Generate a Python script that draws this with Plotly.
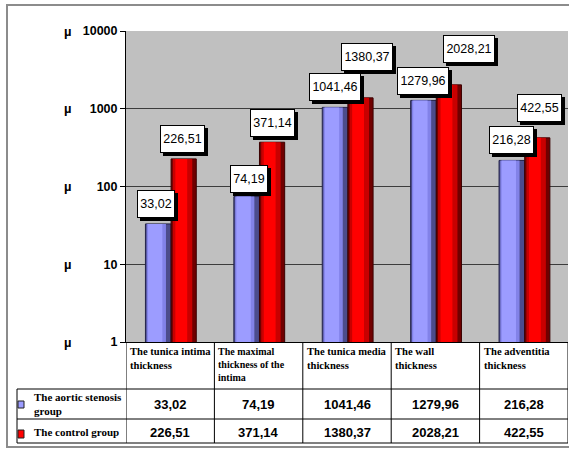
import math
import plotly.graph_objects as go

# ---- data -------------------------------------------------------------
categories = [
    "The tunica intima thickness",
    "The maximal thickness of the intima",
    "The tunica media thickness",
    "The wall thickness",
    "The adventitia thickness",
]
header_text = [
    "The tunica intima<br>thickness",
    "The maximal<br>thickness of the<br>intima",
    "The tunica media<br>thickness",
    "The wall<br>thickness",
    "The adventitia<br>thickness",
]
series_names = ["The aortic stenosis<br>group", "The control group"]
stenosis = [33.02, 74.19, 1041.46, 1279.96, 216.28]
control = [226.51, 371.14, 1380.37, 2028.21, 422.55]
y_ticks = [1, 10, 100, 1000, 10000]
unit_label = "µ"

# ---- page geometry ----------------------------------------------------
W, H = 569, 451
ML, MR, MT, MB = 126, 1, 31, 109
PW, PH = W - ML - MR, H - MT - MB


def px(xp):
    return (xp - ML) / PW


def py(yp):
    return (H - MB - yp) / PH


def fmt(v):
    return f"{v:.2f}".replace(".", ",")


def text_width(s, size):
    # Liberation Sans metrics: digits 0.556 em, comma 0.278 em
    return sum(0.278 if ch == "," else 0.556 for ch in s) * size


SANS = "Liberation Sans, Arial, sans-serif"
SERIF = "Liberation Serif, Times New Roman, serif"
LABEL_SIZE = 12.5

fig = go.Figure()
xs = list(range(len(categories)))

# cylinder-like bars: a dark full-width bar with lighter inner strips on top
bar_specs = [
    dict(values=stenosis, offset=-0.28, width=0.29, outline="#23234a",
         layers=[(0.0, 1.0, "#4c4c8c"), (0.05, 0.80, "#8282e8"), (0.10, 0.66, "#9c9cff")]),
    dict(values=control, offset=0.01, width=0.285, outline="#3a0000",
         layers=[(0.0, 1.0, "#700000"), (0.07, 0.84, "#c80000"), (0.17, 0.64, "#ff0000")]),
]
for spec in bar_specs:
    for k, (lo, hi, col) in enumerate(spec["layers"]):
        fig.add_bar(
            x=xs, y=spec["values"],
            offset=spec["offset"] + lo * spec["width"],
            width=(hi - lo) * spec["width"],
            marker=dict(color=col, line=dict(width=1 if k == 0 else 0, color=spec["outline"])),
            showlegend=False, hoverinfo="skip",
        )

annotations = []
shapes = []

# value labels: white boxes with a black drop shadow
label_shift = [
    dict(dx=[-2, 2, 0, 0, 0], gap=[6, 4, 6, 5, 6]),
    dict(dx=[-1, 0, 7, 20, 2], gap=[6, 5, 27, 22, 16]),
]
for spec, sh in zip(bar_specs, label_shift):
    center = spec["offset"] + spec["width"] / 2
    for i, v in enumerate(spec["values"]):
        label = fmt(v)
        box_w = math.ceil(text_width(label, LABEL_SIZE))
        for shadow in (True, False):
            annotations.append(dict(
                x=i + center, y=math.log10(v), xref="x", yref="y",
                text=" " if shadow else label, showarrow=False,
                yanchor="bottom", xanchor="center",
                xshift=sh["dx"][i] + (3 if shadow else 0),
                yshift=sh["gap"][i] - (3 if shadow else 0),
                font=dict(family=SANS, size=LABEL_SIZE, color="black"),
                width=box_w, height=22,
                bgcolor="black" if shadow else "white",
                bordercolor="black", borderwidth=1, borderpad=2,
            ))

# unit marks next to the tick labels
for t in y_ticks:
    annotations.append(dict(
        x=px(68), y=math.log10(t), xref="paper", yref="y", text=f"<b>{unit_label}</b>",
        showarrow=False, xanchor="center", yanchor="middle",
        font=dict(family=SANS, size=13, color="black"),
    ))

# ---- data table under the plot -----------------------------------------
line = dict(color="black", width=1)
row_y = [389, 419, 443]
for yp in row_y:
    shapes.append(dict(type="line", xref="paper", yref="paper",
                       x0=px(17), x1=px(568), y0=py(yp), y1=py(yp), line=line))
shapes.append(dict(type="line", xref="paper", yref="paper",
                   x0=px(17), x1=px(17), y0=py(389), y1=py(443), line=line))
for b in range(len(categories) + 1):
    shapes.append(dict(type="line", xref="x", yref="paper",
                       x0=b - 0.5, x1=b - 0.5, y0=0, y1=py(443), line=line))

for i, txt in enumerate(header_text):
    small = txt.count("<br>") > 1
    annotations.append(dict(
        x=i - 0.5, y=py(344), xref="x", yref="paper", text=f"<b>{txt}</b>",
        showarrow=False, xanchor="left", yanchor="top", align="left", xshift=2,
        font=dict(family=SERIF, size=10 if small else 10.6, color="black"),
    ))

row_centers = [404, 432]
for r, (name, vals) in enumerate(zip(series_names, [stenosis, control])):
    annotations.append(dict(
        x=px(32), y=py(row_centers[r]), xref="paper", yref="paper",
        text=f"<b>{name}</b>", showarrow=False, xanchor="left", yanchor="middle",
        align="left", font=dict(family=SERIF, size=11, color="black"),
    ))
    for i, v in enumerate(vals):
        annotations.append(dict(
            x=i, y=py(row_centers[r]), xref="x", yref="paper", text=f"<b>{fmt(v)}</b>",
            showarrow=False, xanchor="center", yanchor="middle",
            font=dict(family=SANS, size=13, color="black"),
        ))

# legend keys inside the row headers
for (x0, y0, x1, y1), spec in zip([(18, 401, 24, 408), (18, 430, 24, 438)], bar_specs):
    shapes.append(dict(type="rect", xref="paper", yref="paper",
                       x0=px(x0), x1=px(x1), y0=py(y0), y1=py(y1),
                       fillcolor=spec["layers"][-1][2], line=dict(color="#202020", width=1)))

# outer frame
shapes.append(dict(type="rect", xref="paper", yref="paper",
                   x0=px(7), x1=px(590), y0=py(5), y1=py(447),
                   line=dict(color="#8c8c8c", width=2), fillcolor="rgba(0,0,0,0)"))

fig.update_layout(
    width=W, height=H,
    margin=dict(l=ML, r=MR, t=MT, b=MB, pad=0),
    paper_bgcolor="white", plot_bgcolor="#c0c0c0",
    barmode="overlay", showlegend=False,
    annotations=annotations, shapes=shapes,
    xaxis=dict(range=[-0.5, len(categories) - 0.5], showticklabels=False, showgrid=False,
               zeroline=False, showline=True, linecolor="black", linewidth=1, ticks=""),
    yaxis=dict(type="log", range=[0, 4], tickvals=y_ticks,
               ticktext=[f"<b>{t}</b>" for t in y_ticks],
               ticks="outside", ticklen=5, tickcolor="black",
               tickfont=dict(family=SANS, size=12.5, color="black"),
               showline=True, linecolor="black", linewidth=1,
               showgrid=True, gridcolor="#3c3c3c", gridwidth=1, zeroline=False),
)

fig.write_html("out.html")
